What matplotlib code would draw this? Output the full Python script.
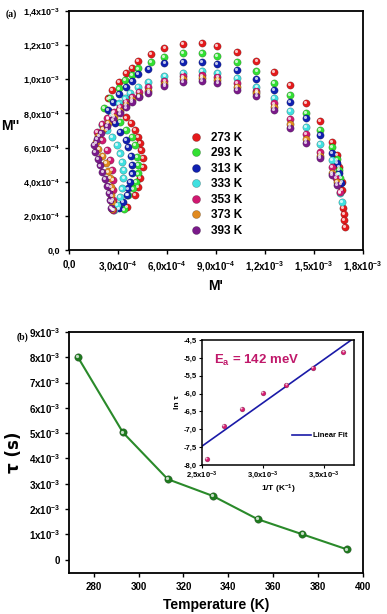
import matplotlib
matplotlib.use("Agg")
import matplotlib.pyplot as plt
import matplotlib.transforms as mtransforms
from matplotlib.lines import Line2D
import numpy as np

plt.rcParams['font.family'] = ['Liberation Sans', 'DejaVu Sans']
plt.rcParams['font.weight'] = 'bold'
plt.rcParams['mathtext.fontset'] = 'custom'
plt.rcParams['mathtext.rm'] = 'Liberation Sans:bold'
plt.rcParams['mathtext.bf'] = 'Liberation Sans:bold'
plt.rcParams['mathtext.it'] = 'Liberation Sans:bold'
plt.rcParams['mathtext.default'] = 'bf'

# ---------------- data: panel (a), modulus plane (units of 1e-3) -------------
temps_a = ["273 K", "293 K", "313 K", "333 K", "353 K", "373 K", "393 K"]
colors_a = ["#e41a1c", "#33e033", "#1020b0", "#40e0e0", "#d01870", "#e08a20", "#7a1a8a"]

m1_273 = [0.353, 0.404, 0.424, 0.435, 0.451, 0.451, 0.439, 0.435, 0.424, 0.404, 0.378, 0.347, 0.308, 0.240,
          0.265, 0.308, 0.347, 0.384, 0.424, 0.500, 0.584, 0.696, 0.813, 0.908, 1.029, 1.147, 1.255, 1.353,
          1.449, 1.537, 1.609, 1.639, 1.655, 1.670, 1.670, 1.676, 1.681, 1.684, 1.688]
m2_273 = [0.250, 0.322, 0.371, 0.420, 0.488, 0.537, 0.586, 0.625, 0.664, 0.703, 0.742, 0.777, 0.820, 0.888,
          0.937, 0.986, 1.035, 1.068, 1.109, 1.148, 1.183, 1.207, 1.211, 1.197, 1.162, 1.109, 1.045, 0.967,
          0.863, 0.756, 0.631, 0.557, 0.488, 0.400, 0.351, 0.246, 0.211, 0.176, 0.136]

m1_293 = [0.337, 0.363, 0.390, 0.410, 0.424, 0.424, 0.418, 0.404, 0.384, 0.347, 0.312, 0.271, 0.214,
          0.250, 0.308, 0.343, 0.384, 0.424, 0.500, 0.582, 0.696, 0.813, 0.908, 1.030, 1.147, 1.255,
          1.353, 1.449, 1.537, 1.609, 1.639, 1.655, 1.662]
m2_293 = [0.238, 0.322, 0.361, 0.400, 0.449, 0.498, 0.547, 0.615, 0.664, 0.703, 0.752, 0.791, 0.830,
          0.890, 0.947, 0.996, 1.025, 1.064, 1.103, 1.132, 1.156, 1.156, 1.136, 1.103, 1.050, 0.980,
          0.908, 0.804, 0.703, 0.605, 0.531, 0.470, 0.420]

m1_313 = [0.308, 0.330, 0.353, 0.363, 0.374, 0.384, 0.384, 0.378, 0.363, 0.347, 0.312, 0.282, 0.255, 0.240,
          0.271, 0.308, 0.347, 0.384, 0.424, 0.486, 0.584, 0.696, 0.813, 0.908, 1.030, 1.147, 1.255,
          1.353, 1.449, 1.537, 1.609, 1.639, 1.655, 1.664]
m2_313 = [0.244, 0.280, 0.322, 0.361, 0.400, 0.449, 0.498, 0.551, 0.605, 0.644, 0.693, 0.742, 0.785, 0.820,
          0.869, 0.914, 0.953, 0.992, 1.031, 1.059, 1.094, 1.103, 1.103, 1.088, 1.054, 1.002, 0.937,
          0.865, 0.772, 0.674, 0.570, 0.508, 0.449, 0.390]

m1_333 = [0.276, 0.292, 0.312, 0.322, 0.333, 0.333, 0.322, 0.312, 0.292, 0.261, 0.231, 0.200,
          0.240, 0.271, 0.308, 0.343, 0.374, 0.424, 0.486, 0.584, 0.697, 0.813, 0.909, 1.030, 1.147,
          1.255, 1.353, 1.449, 1.537, 1.609, 1.640, 1.660, 1.670]
m2_333 = [0.234, 0.264, 0.312, 0.361, 0.420, 0.469, 0.517, 0.566, 0.615, 0.664, 0.703, 0.732,
          0.771, 0.801, 0.859, 0.888, 0.918, 0.953, 0.986, 1.020, 1.039, 1.049, 1.035, 1.009, 0.957,
          0.892, 0.814, 0.719, 0.621, 0.527, 0.440, 0.332, 0.283]

m1_353 = [0.271, 0.267, 0.271, 0.271, 0.261, 0.251, 0.231, 0.200, 0.173, 0.200, 0.235, 0.275,
          0.310, 0.349, 0.384, 0.429, 0.486, 0.584, 0.697, 0.813, 0.909, 1.030, 1.147, 1.255, 1.353,
          1.449, 1.537, 1.609, 1.633, 1.660]
m2_353 = [0.234, 0.293, 0.351, 0.410, 0.469, 0.527, 0.586, 0.644, 0.693, 0.740, 0.775, 0.810,
          0.840, 0.869, 0.898, 0.924, 0.953, 0.990, 1.017, 1.023, 1.012, 0.980, 0.933, 0.859, 0.767,
          0.680, 0.572, 0.488, 0.420, 0.342]

m1_373 = [0.265, 0.262, 0.260, 0.255, 0.250, 0.240, 0.225, 0.205, 0.180, 0.165, 0.180, 0.210, 0.240,
          0.275, 0.310, 0.349, 0.384, 0.430, 0.486, 0.584, 0.697, 0.813, 0.909, 1.030, 1.147, 1.255,
          1.353, 1.449, 1.537, 1.609, 1.639]
m2_373 = [0.240, 0.280, 0.320, 0.370, 0.420, 0.460, 0.510, 0.550, 0.590, 0.630, 0.670, 0.710, 0.745,
          0.780, 0.815, 0.850, 0.880, 0.905, 0.930, 0.975, 1.002, 1.006, 0.996, 0.957, 0.918, 0.836,
          0.736, 0.648, 0.550, 0.450, 0.400]

m1_393 = [0.255, 0.250, 0.245, 0.235, 0.220, 0.205, 0.190, 0.175, 0.160, 0.155, 0.170, 0.195, 0.230,
          0.270, 0.310, 0.349, 0.384, 0.430, 0.486, 0.584, 0.697, 0.813, 0.909, 1.030, 1.147, 1.255,
          1.353, 1.449, 1.537, 1.609, 1.639]
m2_393 = [0.245, 0.290, 0.335, 0.375, 0.415, 0.455, 0.495, 0.535, 0.575, 0.615, 0.650, 0.685, 0.725,
          0.765, 0.800, 0.835, 0.865, 0.895, 0.920, 0.962, 0.985, 0.990, 0.978, 0.940, 0.904, 0.820,
          0.717, 0.627, 0.537, 0.439, 0.381]

series_a = [(m1_273, m2_273), (m1_293, m2_293), (m1_313, m2_313), (m1_333, m2_333),
            (m1_353, m2_353), (m1_373, m2_373), (m1_393, m2_393)]

xticks_a = [0.0, 0.3, 0.6, 0.9, 1.2, 1.5, 1.8]
xticklabels_a = ['0,0', r'3,0x10$^{-4}$', r'6,0x10$^{-4}$', r'9,0x10$^{-4}$',
                 r'1,2x10$^{-3}$', r'1,5x10$^{-3}$', r'1,8x10$^{-3}$']
yticks_a = [0.0, 0.2, 0.4, 0.6, 0.8, 1.0, 1.2, 1.4]
yticklabels_a = ['0,0', r'2,0x10$^{-4}$', r'4,0x10$^{-4}$', r'6,0x10$^{-4}$', r'8,0x10$^{-4}$',
                 r'1,0x10$^{-3}$', r'1,2x10$^{-3}$', r'1,4x10$^{-3}$']

# ---------------- data: panel (b) -------------
temperature = [273, 293, 313, 333, 353, 373, 393]
tau_ms = [8.0, 5.03, 3.18, 2.52, 1.60, 1.00, 0.40]          # tau in units of 1e-3 s
yticks_b = [0, 1, 2, 3, 4, 5, 6, 7, 8, 9]
yticklabels_b = ['0'] + [r'%dx10$^{-3}$' % v for v in range(1, 10)]
xticks_b = [280, 300, 320, 340, 360, 380, 400]

# inset: Arrhenius plot
inv_T = [3.663, 3.413, 3.195, 3.003, 2.833, 2.681, 2.545]   # 1/T in units of 1e-3 K^-1
ln_tau = [-4.84, -5.29, -5.76, -5.99, -6.44, -6.91, -7.82]
xticks_in = [2.5, 3.0, 3.5]
xticklabels_in = [r'2,5x10$^{-3}$', r'3,0x10$^{-3}$', r'3,5x10$^{-3}$']
yticks_in = [-4.5, -5.0, -5.5, -6.0, -6.5, -7.0, -7.5, -8.0]
yticklabels_in = ['-4,5', '-5,0', '-5,5', '-6,0', '-6,5', '-7,0', '-7,5', '-8,0']

# ---------------- figure -------------
W, H = 387, 614
fig = plt.figure(figsize=(W / 100, H / 100), dpi=100)


def box(l, t, r, b):
    return [l / W, 1 - b / H, (r - l) / W, (b - t) / H]


def sphere(ax, x, y, color, size, z=3):
    ax.scatter(x, y, s=size, color=color, edgecolors=(0, 0, 0, 0.35), linewidths=0.4, zorder=z)
    off = mtransforms.offset_copy(ax.transData, fig=fig, x=-0.6, y=0.6, units='points')
    ax.scatter(x, y, s=size * 0.18, color='white', alpha=0.75, linewidths=0, zorder=z + 0.1,
               transform=off)


def style(ax, lw=1.3):
    for sp in ax.spines.values():
        sp.set_linewidth(lw)
    ax.tick_params(direction='out', width=1.0, length=3, top=False, right=False)


# panel (a)
axa = fig.add_axes(box(69, 11, 363, 250))
style(axa)
for (mx, my), c in zip(series_a, colors_a):
    sphere(axa, mx, my, c, 28)
axa.set_xlim(0, 1.8)
axa.set_ylim(0, 1.4)
axa.set_xticks(xticks_a)
axa.set_xticklabels(xticklabels_a, fontsize=7)
axa.set_yticks(yticks_a)
axa.set_yticklabels(yticklabels_a, fontsize=6.5)
axa.set_xlabel("M'", fontsize=10, fontweight='bold', labelpad=4)
axa.set_ylabel("M''", fontsize=10, fontweight='bold', rotation=0)
axa.yaxis.set_label_coords(-0.2, 0.49)

handles = [Line2D([], [], ls='none', marker='o', ms=5.8, mfc=c, mec=(0, 0, 0, 0.35), mew=0.4)
           for c in colors_a]
leg = axa.legend(handles, temps_a, loc='upper left', bbox_to_anchor=(0.40, 0.515), frameon=False,
                 handletextpad=0.9, labelspacing=0.3, borderaxespad=0,
                 handlelength=0.8, prop={'weight': 'bold', 'size': 8.5})
fig.text(6 / W, 1 - 17 / H, '(a)', fontsize=7, fontweight='bold', family='Liberation Serif')

# panel (b)
axb = fig.add_axes(box(69, 332, 363, 573))
style(axb)
axb.plot(temperature, tau_ms, color='#2a8a2a', lw=1.5, zorder=2)
sphere(axb, temperature, tau_ms, '#1f7a1f', 30)
axb.set_xlim(269, 400)
axb.set_ylim(-0.53, 9)
axb.set_xticks(xticks_b)
axb.set_xticklabels([str(v) for v in xticks_b], fontsize=7)
axb.set_yticks(yticks_b)
axb.set_yticklabels(yticklabels_b, fontsize=7)
axb.set_xlabel('Temperature (K)', fontsize=10, fontweight='bold', labelpad=4)
axb.set_ylabel('τ (s)', fontsize=12, fontweight='bold', family=['DejaVu Sans'], labelpad=4)
fig.text(17 / W, 1 - 340 / H, '(b)', fontsize=7, fontweight='bold', family='Liberation Serif')

# inset
axi = fig.add_axes(box(201.7, 340, 354, 465))
style(axi, lw=1.1)
axi.tick_params(length=2, width=0.8, pad=1.5)
coef = np.polyfit(inv_T, ln_tau, 1)
xf = np.linspace(2.5, 3.75, 50)
axi.plot(xf, np.polyval(coef, xf), color='#1a1aa8', lw=1.2, label='Linear Fit', zorder=2)
sphere(axi, inv_T, ln_tau, '#d81b70', 12)
axi.set_xlim(2.5, 3.75)
axi.set_ylim(-8.0, -4.5)
axi.set_xticks(xticks_in)
axi.set_xticklabels(xticklabels_in, fontsize=5.5)
axi.set_yticks(yticks_in)
axi.set_yticklabels(yticklabels_in, fontsize=5.5)
axi.set_xlabel('1/T (K$^{-1}$)', fontsize=6, fontweight='bold', labelpad=1)
axi.set_ylabel('ln τ', fontsize=6, fontweight='bold', labelpad=2)
axi.legend(loc='lower right', frameon=False, prop={'weight': 'bold', 'size': 5.5},
           handlelength=2.5, handletextpad=0.2, bbox_to_anchor=(1.0, 0.15))
axi.text(0.08, 0.84, r'E$_{a}$ = 142 meV', transform=axi.transAxes, color='#c0186a',
         fontsize=9.5, fontweight='bold', va='center')

fig.savefig('out.png', dpi=100)
